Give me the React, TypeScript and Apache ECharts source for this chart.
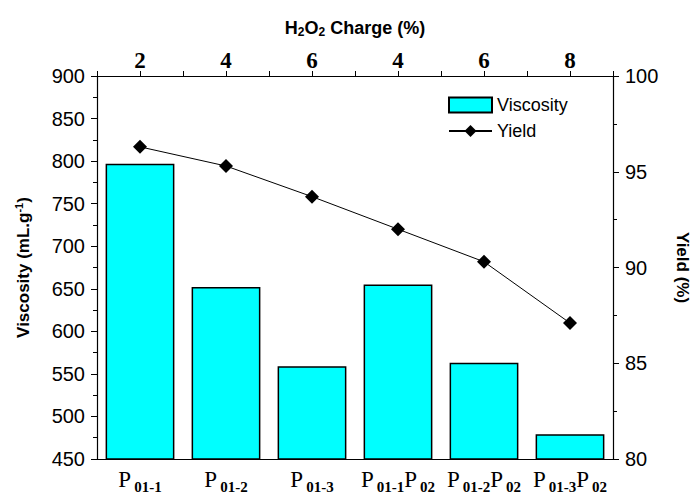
import React, { useEffect, useRef } from "react";
import * as echarts from "echarts";

const categories = ["P01-1", "P01-2", "P01-3", "P01-1P02", "P01-2P02", "P01-3P02"];
const chargeLabels = ["2", "4", "6", "4", "6", "8"];
const viscosity = [797, 652, 559, 655, 563, 479];
const yieldPct = [96.3, 95.3, 93.7, 92.0, 90.3, 87.1];
const viscosityRange = [450, 900, 50];
const yieldRange = [80, 100, 5];

const SANS = "'Liberation Sans', Arial, sans-serif";
const SERIF = "'Liberation Serif', 'Times New Roman', serif";

export default function App() {
  const ref = useRef<HTMLDivElement>(null);
  useEffect(() => {
    if (!ref.current) return;
    const chart = echarts.init(ref.current, null, { renderer: "svg" });
    const black = "#000";
    chart.setOption({
      animation: false,
      backgroundColor: "#fff",
      grid: { left: 97, right: 78, top: 76, bottom: 37, containLabel: false, outerBoundsMode: "none" },
      legend: {
        orient: "vertical",
        left: 443,
        top: 91,
        itemWidth: 43,
        itemHeight: 15,
        itemGap: 8,
        textStyle: { fontFamily: SANS, fontSize: 18, color: black },
        data: [{ name: "Viscosity", icon: "rect" }, { name: "Yield" }],
      },
      xAxis: [
        {
          type: "category",
          position: "bottom",
          data: categories,
          boundaryGap: true,
          axisLine: { lineStyle: { color: black, width: 1.2 } },
          axisTick: { show: false },
          axisLabel: {
            margin: 5,
            interval: 0,
            formatter: (v: string) => v.replace(/P(\d{2}(?:-\d)?)/g, "{p|P}{s|$1}"),
            rich: {
              p: { fontFamily: SERIF, fontSize: 23, color: black, lineHeight: 30 },
              s: {
                fontFamily: SERIF,
                fontSize: 15,
                fontWeight: "bold",
                color: black,
                lineHeight: 4,
                verticalAlign: "bottom",
                padding: [0, 0, 0, 3],
              },
            },
          },
        },
        {
          type: "value",
          position: "top",
          min: 0,
          max: 6,
          interval: 0.5,
          axisLine: { show: true, lineStyle: { color: black, width: 1.2 } },
          axisTick: { show: true, length: 5, lineStyle: { color: black } },
          splitLine: { show: false },
          axisLabel: {
            margin: 4,
            fontFamily: SERIF,
            fontSize: 23,
            fontWeight: "bold",
            color: black,
            showMinLabel: true,
            showMaxLabel: true,
            formatter: (v: number) => {
              const i = Math.floor(v);
              return Math.abs(v - i - 0.5) < 1e-6 ? chargeLabels[i] : "";
            },
          },
          name: "H{s|2}O{s|2} Charge (%)",
          nameLocation: "middle",
          nameGap: 38,
          nameTextStyle: {
            fontFamily: SANS,
            fontSize: 18,
            fontWeight: "bold",
            color: black,
            lineHeight: 20,
            rich: {
              s: { fontFamily: SANS, fontSize: 12, fontWeight: "bold", color: black, lineHeight: 6, verticalAlign: "bottom" },
            },
          },
        },
      ],
      yAxis: [
        {
          type: "value",
          position: "left",
          min: viscosityRange[0],
          max: viscosityRange[1],
          interval: viscosityRange[2],
          axisLine: { show: true, lineStyle: { color: black, width: 1.2 } },
          axisTick: { show: true, length: 6, lineStyle: { color: black } },
          minorTick: { show: true, splitNumber: 2, length: 4, lineStyle: { color: black } },
          splitLine: { show: false },
          axisLabel: { fontFamily: SANS, fontSize: 20, color: black, margin: 12 },
          name: "Viscosity (mL.g{sup|-1})",
          nameLocation: "middle",
          nameGap: 64,
          nameRotate: 90,
          nameTextStyle: {
            fontFamily: SANS,
            fontSize: 17,
            fontWeight: "bold",
            color: black,
            lineHeight: 20,
            rich: {
              sup: { fontFamily: SANS, fontSize: 11, fontWeight: "bold", color: black, lineHeight: 6, verticalAlign: "top" },
            },
          },
        },
        {
          type: "value",
          position: "right",
          min: yieldRange[0],
          max: yieldRange[1],
          interval: yieldRange[2],
          axisLine: { show: true, lineStyle: { color: black, width: 1.2 } },
          axisTick: { show: true, length: 6, lineStyle: { color: black } },
          minorTick: { show: true, splitNumber: 2, length: 4, lineStyle: { color: black } },
          splitLine: { show: false },
          axisLabel: { fontFamily: SANS, fontSize: 20, color: black, margin: 12 },
          name: "Yield (%)",
          nameLocation: "middle",
          nameGap: 61,
          nameRotate: -90,
          nameTextStyle: { fontFamily: SANS, fontSize: 17, fontWeight: "bold", color: black },
        },
      ],
      series: [
        {
          name: "Viscosity",
          type: "bar",
          xAxisIndex: 0,
          yAxisIndex: 0,
          data: viscosity,
          barCategoryGap: "20%",
          itemStyle: { color: "#00ffff", borderColor: "#000", borderWidth: 1.5 },
        },
        {
          name: "Yield",
          type: "line",
          xAxisIndex: 0,
          yAxisIndex: 1,
          data: yieldPct,
          symbol: "diamond",
          symbolSize: 14,
          lineStyle: { color: "#000", width: 1 },
          itemStyle: { color: "#000" },
        },
      ],
    });
    return () => chart.dispose();
  }, []);
  return (
    <div
      ref={ref}
      style={{ position: "fixed", left: 0, top: 0, width: 691, height: 496, background: "#fff" }}
    />
  );
}
